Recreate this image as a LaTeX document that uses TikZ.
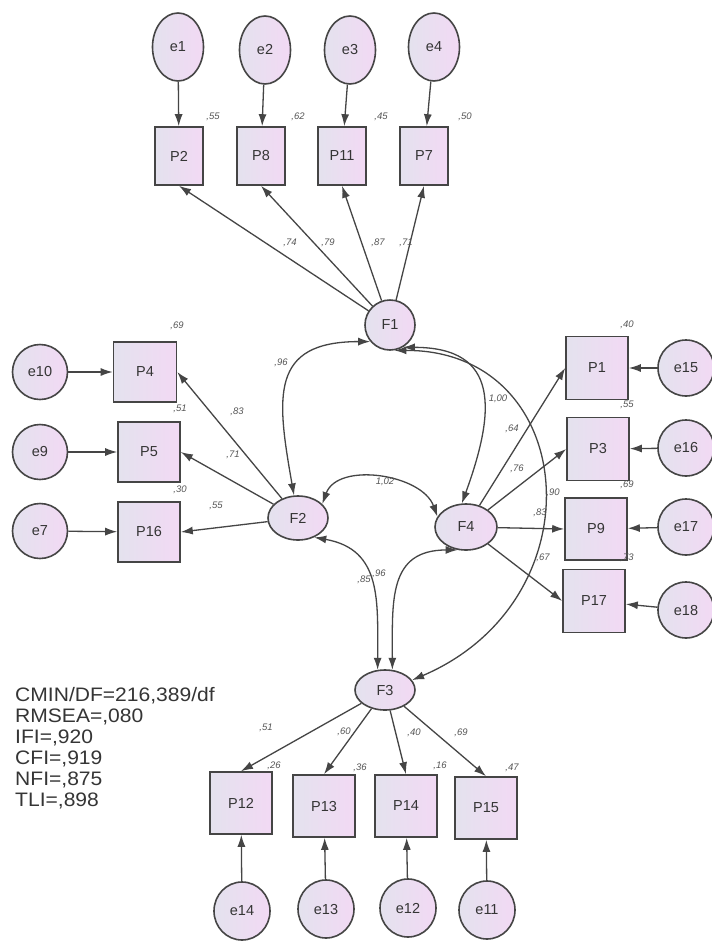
\documentclass[tikz,border=0pt]{standalone}
\usepackage{fontspec}
\setmainfont{Liberation Sans}
\newfontfamily\statfont[FakeStretch=1.08]{Liberation Sans}
\usetikzlibrary{shapes.geometric,arrows.meta}
\definecolor{lavA}{HTML}{E4E2EE}
\definecolor{lavB}{HTML}{F2D9F4}
\definecolor{edgec}{HTML}{454545}
\definecolor{txtc}{HTML}{353535}
\definecolor{lblc}{HTML}{555555}
\begin{document}
\begin{tikzpicture}[x=1pt,y=1pt,
  lat/.style={ellipse,draw=edgec,line width=1.6pt,left color=lavA,right color=lavB,inner sep=0pt,font=\fontsize{14.5}{14.5}\selectfont,text=txtc},
  obs/.style={rectangle,draw=edgec,line width=1.6pt,left color=lavA,right color=lavB,inner sep=0pt,minimum width=62pt,minimum height=62pt,font=\fontsize{14.5}{14.5}\selectfont,text=txtc},
  arr/.style={-{Latex[length=12pt,width=8pt]},draw=edgec,line width=1.3pt},
  cov/.style={{Latex[length=12pt,width=8pt]}-{Latex[length=12pt,width=8pt]},draw=edgec,line width=1.3pt},
  lbl/.style={font=\fontsize{9.5}{9.5}\selectfont\itshape,text=lblc,inner sep=0pt}]
\useasboundingbox (0,0) rectangle (712,-943);
\fill[white] (0,0) rectangle (712,-943);
% top
\node[lat,minimum width=51pt,minimum height=68pt] (e1) at (178,-47) {e1};
\node[lat,minimum width=51pt,minimum height=68pt] (e2) at (265,-50) {e2};
\node[lat,minimum width=51pt,minimum height=68pt] (e3) at (350,-50) {e3};
\node[lat,minimum width=51pt,minimum height=68pt] (e4) at (434,-47) {e4};
\node[obs,minimum width=48pt,minimum height=58pt] (P2) at (179,-156) {P2};
\node[obs,minimum width=48pt,minimum height=58pt] (P8) at (261,-156) {P8};
\node[obs,minimum width=48pt,minimum height=58pt] (P11) at (342,-156) {P11};
\node[obs,minimum width=48pt,minimum height=58pt] (P7) at (424,-156) {P7};
% latent
\node[lat,minimum width=50pt,minimum height=50pt] (F1) at (390,-325) {F1};
\node[lat,minimum width=60pt,minimum height=44pt] (F2) at (298,-518) {F2};
\node[lat,minimum width=62pt,minimum height=46pt] (F4) at (466,-527) {F4};
\node[lat,minimum width=60pt,minimum height=40pt] (F3) at (385,-690) {F3};
% left
\node[lat,minimum size=55pt] (e10) at (40,-372) {e10};
\node[lat,minimum size=55pt] (e9) at (40,-452) {e9};
\node[lat,minimum size=55pt] (e7) at (40,-531) {e7};
\node[obs,minimum width=63pt,minimum height=60pt] (P4) at (145,-372) {P4};
\node[obs,minimum width=62pt,minimum height=60pt] (P5) at (149,-452) {P5};
\node[obs,minimum width=62pt,minimum height=60pt] (P16) at (149,-532) {P16};
% right
\node[obs,minimum width=62pt,minimum height=63pt] (P1) at (597,-368) {P1};
\node[obs,minimum width=62pt,minimum height=63pt] (P3) at (598,-449) {P3};
\node[obs,minimum width=62pt,minimum height=62pt] (P9) at (596,-529) {P9};
\node[obs,minimum width=62pt,minimum height=63pt] (P17) at (594,-601) {P17};
\node[lat,minimum size=56pt] (e15) at (686,-368) {e15};
\node[lat,minimum size=56pt] (e16) at (686,-448) {e16};
\node[lat,minimum size=56pt] (e17) at (686,-527) {e17};
\node[lat,minimum size=56pt] (e18) at (686,-610) {e18};
% bottom
\node[obs] (P12) at (241,-803) {P12};
\node[obs] (P13) at (324,-806) {P13};
\node[obs] (P14) at (406,-806) {P14};
\node[obs] (P15) at (486,-808) {P15};
\node[lat,minimum width=56pt,minimum height=58pt] (e14) at (242,-911) {e14};
\node[lat,minimum width=56pt,minimum height=58pt] (e13) at (326,-909) {e13};
\node[lat,minimum width=56pt,minimum height=58pt] (e12) at (408,-908) {e12};
\node[lat,minimum width=56pt,minimum height=58pt] (e11) at (487,-910) {e11};
% error arrows
\foreach \e/\p in {e1/P2,e2/P8,e3/P11,e4/P7,e10/P4,e9/P5,e7/P16,e15/P1,e16/P3,e17/P9,e18/P17,e14/P12,e13/P13,e12/P14,e11/P15}
  \draw[arr] (\e) -- (\p);
% loadings
\foreach \p in {P2,P8,P11,P7} \draw[arr] (F1) -- (\p.south);
\foreach \p in {P4,P5,P16} \draw[arr] (F2) -- (\p.east);
\foreach \p in {P1,P3,P9,P17} \draw[arr] (F4) -- (\p.west);
\foreach \p in {P12,P13,P14,P15} \draw[arr] (F3) -- (\p.north);
% covariances
\draw[cov] (F1.220) to[out=180,in=100,looseness=1.5] (F2.100);
\draw[cov] (F1.-60) to[out=0,in=70,looseness=1.5] (F4.100);
\draw[cov] (F1.-80) .. controls (580,-350) and (600,-600) .. (F3.20);
\draw[cov] (F2.30) to[out=70,in=110] (F4.160);
\draw[cov] (F2.-50) to[out=-10,in=90,looseness=1.2] (F3.110);
\draw[cov] (F4.-110) to[out=180,in=90,looseness=1.3] (F3.70);
% labels
\node[lbl] (s2) at (213,-117) {,55};
\node[lbl] (s8) at (298,-117) {,62};
\node[lbl] (s11) at (381,-117) {,45};
\node[lbl] (s7) at (465,-117) {,50};
\node[lbl] (l2) at (290,-243) {,74};
\node[lbl] (l8) at (328,-243) {,79};
\node[lbl] (l11) at (378,-243) {,87};
\node[lbl] (l7) at (406,-243) {,71};
\node[lbl] (c12) at (281,-363) {,96};
\node[lbl] (c14) at (498,-399) {1,00};
\node[lbl] (c13) at (553,-493) {,90};
\node[lbl] (c24) at (385,-482) {1,02};
\node[lbl] (c23) at (364,-580) {,85};
\node[lbl] (c43) at (379,-574) {,96};
\node[lbl] (s4) at (177,-326) {,69};
\node[lbl] (s5) at (180,-409) {,51};
\node[lbl] (s16) at (180,-490) {,30};
\node[lbl] (l4) at (237,-412) {,83};
\node[lbl] (l5) at (233,-455) {,71};
\node[lbl] (l16) at (216,-506) {,55};
\node[lbl] (s1) at (627,-325) {,40};
\node[lbl] (s3) at (627,-405) {,55};
\node[lbl] (s9) at (627,-485) {,69};
\node[lbl] (s17) at (627,-558) {,73};
\node[lbl] (l1) at (512,-429) {,64};
\node[lbl] (l3) at (517,-469) {,76};
\node[lbl] (l9) at (540,-513) {,83};
\node[lbl] (l17) at (543,-558) {,67};
\node[lbl] (l12) at (266,-728) {,51};
\node[lbl] (l13) at (344,-732) {,60};
\node[lbl] (l14) at (414,-733) {,40};
\node[lbl] (l15) at (461,-733) {,69};
\node[lbl] (s12) at (274,-766) {,26};
\node[lbl] (s13) at (360,-768) {,36};
\node[lbl] (s14) at (440,-766) {,16};
\node[lbl] (s15) at (512,-768) {,47};
% fit statistics
\node[anchor=north west,align=left,inner sep=0pt,text=txtc,font=\statfont\fontsize{19.5}{21}\selectfont] (fit) at (15,-687)
 {CMIN/DF=216,389/df\\RMSEA=,080\\IFI=,920\\CFI=,919\\NFI=,875\\TLI=,898};
\end{tikzpicture}
\end{document}
